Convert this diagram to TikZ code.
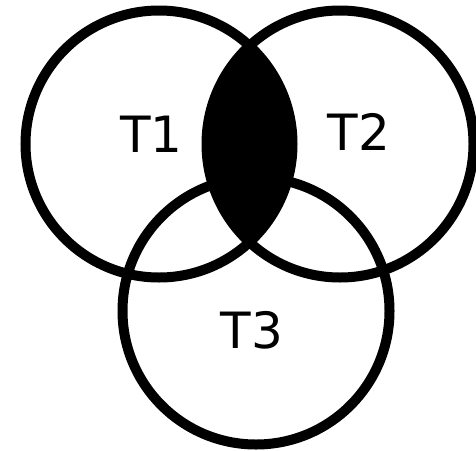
\documentclass[tikz,border=0pt]{standalone}
\usepackage{fontspec}
\setmainfont{DejaVu Sans}
\usepackage{tikz}
\usetikzlibrary{positioning, calc}
\tikzset{
  set ring/.style={
    draw=black,
    line width=10pt
  },
  set label/.style={
    font=\fontsize{50}{60}\selectfont,
    inner sep=0pt
  }
}

\begin{document}
\begin{tikzpicture}[x=1pt, y=-1pt]
  \useasboundingbox (0,0) rectangle (476,450);
  \coordinate (c1) at (159,144);
  \coordinate (c2) at (340,144);
  \coordinate (c3) at (256,311);

  % intersection of T1 and T2
  \begin{scope}
    \clip (c1) circle[radius=133.5pt];
    \fill[black] (c2) circle[radius=133.5pt];
  \end{scope}

  \draw[set ring] (c1) circle[radius=133.5pt];
  \draw[set ring] (c2) circle[radius=133.5pt];
  \draw[set ring] (c3) circle[radius=133.5pt];

  \node[set label] (t1) at (151.5,134) {T1};
  \node[set label] (t2) at (359,132) {T2};
  \node[set label] (t3) at (252,330) {T3};
\end{tikzpicture}
\end{document}
